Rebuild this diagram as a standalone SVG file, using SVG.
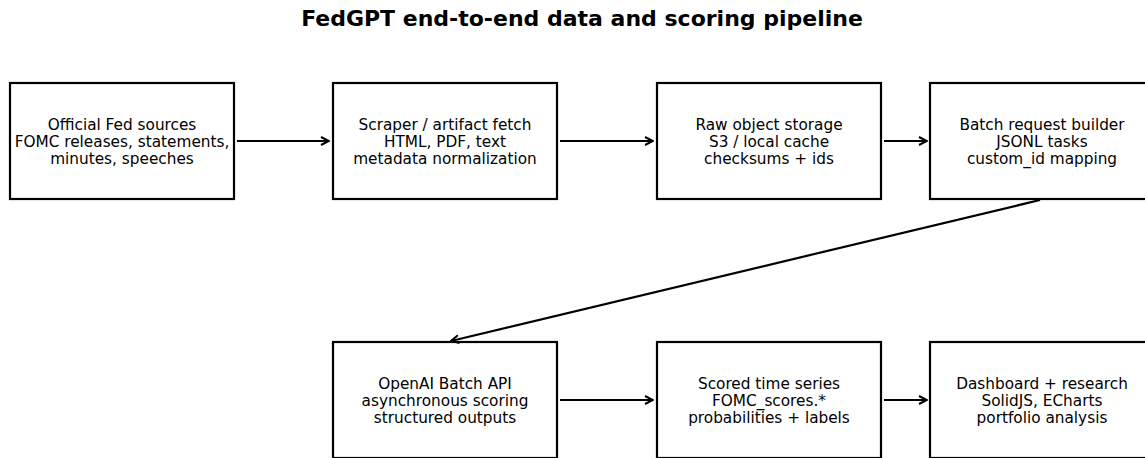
<svg xmlns="http://www.w3.org/2000/svg" width="1145" height="458" viewBox="0 0 1145 458">
<style>
.box{fill:#fff;stroke:#000;stroke-width:2.2}
.t{font-family:"DejaVu Sans",sans-serif;font-size:15.3px;text-anchor:middle;fill:#000}
.title{font-family:"DejaVu Sans",sans-serif;font-size:22px;font-weight:bold;text-anchor:middle;fill:#000}
.c{stroke:#000;stroke-width:2.2;fill:none}
</style>
<defs>
<marker id="ah" viewBox="0 0 10 10" refX="9" refY="5" markerWidth="10" markerHeight="10" markerUnits="userSpaceOnUse" orient="auto">
<path d="M1,1 L9,5 L1,9" fill="none" stroke="#000" stroke-width="2"/>
</marker>
</defs>
<rect width="1145" height="458" fill="#fff"/>
<text class="title" x="582" y="26">FedGPT end-to-end data and scoring pipeline</text>
<g id="n1"><rect class="box" x="10" y="83" width="224" height="116"/><text class="t" x="122" y="129.5">Official Fed sources</text><text class="t" x="122" y="146.5">FOMC releases, statements,</text><text class="t" x="122" y="163.5">minutes, speeches</text></g>
<g id="n2"><rect class="box" x="333" y="83" width="224" height="116"/><text class="t" x="445" y="129.5">Scraper / artifact fetch</text><text class="t" x="445" y="146.5">HTML, PDF, text</text><text class="t" x="445" y="163.5">metadata normalization</text></g>
<g id="n3"><rect class="box" x="657" y="83" width="224" height="116"/><text class="t" x="769" y="129.5">Raw object storage</text><text class="t" x="769" y="146.5">S3 / local cache</text><text class="t" x="769" y="163.5">checksums + ids</text></g>
<g id="n4"><rect class="box" x="930" y="83" width="224" height="116"/><text class="t" x="1042" y="129.5">Batch request builder</text><text class="t" x="1042" y="146.5">JSONL tasks</text><text class="t" x="1042" y="163.5">custom_id mapping</text></g>
<g id="n5"><rect class="box" x="333" y="342" width="224" height="116"/><text class="t" x="445" y="388.5">OpenAI Batch API</text><text class="t" x="445" y="405.5">asynchronous scoring</text><text class="t" x="445" y="422.5">structured outputs</text></g>
<g id="n6"><rect class="box" x="657" y="342" width="224" height="116"/><text class="t" x="769" y="388.5">Scored time series</text><text class="t" x="769" y="405.5">FOMC_scores.*</text><text class="t" x="769" y="422.5">probabilities + labels</text></g>
<g id="n7"><rect class="box" x="930" y="342" width="224" height="116"/><text class="t" x="1042" y="388.5">Dashboard + research</text><text class="t" x="1042" y="405.5">SolidJS, ECharts</text><text class="t" x="1042" y="422.5">portfolio analysis</text></g>
<g id="connectors">
<line class="c" x1="237" y1="141" x2="329" y2="141" marker-end="url(#ah)"/>
<line class="c" x1="560" y1="141" x2="653" y2="141" marker-end="url(#ah)"/>
<line class="c" x1="884" y1="141" x2="927" y2="141" marker-end="url(#ah)"/>
<line class="c" x1="1040" y1="200" x2="451" y2="341" marker-end="url(#ah)"/>
<line class="c" x1="560" y1="400" x2="653" y2="400" marker-end="url(#ah)"/>
<line class="c" x1="884" y1="400" x2="927" y2="400" marker-end="url(#ah)"/>
</g>
</svg>
